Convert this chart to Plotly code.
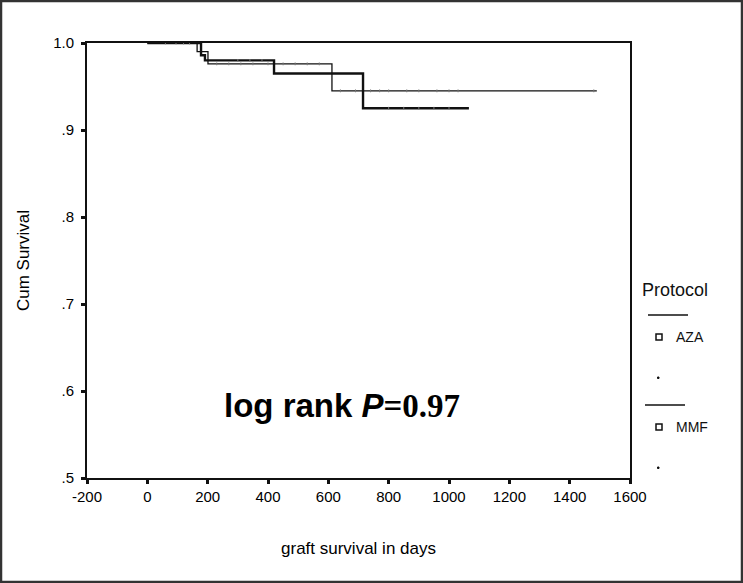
import plotly.graph_objects as go

# Kaplan-Meier step data
aza_days = [0, 178, 191, 420, 715, 1066]
aza_surv = [1.0, 0.986, 0.980, 0.965, 0.925, 0.925]
mmf_days = [0, 165, 201, 612, 1490]
mmf_surv = [1.0, 0.990, 0.976, 0.945, 0.945]

# censored observations (approximate)
aza_cens_days = [60, 95, 120, 140, 300, 340, 380, 800, 850, 900, 950, 1000]
aza_cens_surv = [1.0, 1.0, 1.0, 1.0, 0.980, 0.980, 0.980, 0.925, 0.925, 0.925, 0.925, 0.925]
mmf_cens_days = [230, 270, 310, 350, 400, 450, 490, 530, 570, 640, 690, 740, 770, 800, 860, 900, 960, 1000, 1030, 1480]
mmf_cens_surv = [0.976] * 9 + [0.945] * 11

x_ticks = [-200, 0, 200, 400, 600, 800, 1000, 1200, 1400, 1600]
y_ticks = [0.5, 0.6, 0.7, 0.8, 0.9, 1.0]
y_labels = [".5", ".6", ".7", ".8", ".9", "1.0"]

fig = go.Figure()
fig.add_trace(go.Scatter(x=mmf_days, y=mmf_surv, mode="lines", line_shape="hv",
                         line=dict(color="#111", width=1.3), name="MMF", showlegend=False))
fig.add_trace(go.Scatter(x=aza_days, y=aza_surv, mode="lines", line_shape="hv",
                         line=dict(color="#111", width=2.4), name="AZA", showlegend=False))
fig.add_trace(go.Scatter(x=mmf_cens_days, y=mmf_cens_surv, mode="markers",
                         marker=dict(symbol="line-ns", size=2, line=dict(color="#777", width=1)),
                         showlegend=False, hoverinfo="skip"))
fig.add_trace(go.Scatter(x=aza_cens_days, y=aza_cens_surv, mode="markers",
                         marker=dict(symbol="line-ns", size=2, line=dict(color="#777", width=1)),
                         showlegend=False, hoverinfo="skip"))

font = "Liberation Sans, Arial, sans-serif"
fig.update_layout(
    width=743, height=583,
    margin=dict(l=87, r=113, t=43, b=105, autoexpand=False),
    paper_bgcolor="white", plot_bgcolor="white",
    font=dict(family=font, color="#000", size=15),
    xaxis=dict(range=[-200, 1600], tickvals=x_ticks, ticktext=[str(v) for v in x_ticks],
               showgrid=False, zeroline=False, showline=True, linecolor="#111", linewidth=2,
               mirror=True, ticks="outside", ticklen=4, tickwidth=3, tickcolor="#111",
               automargin=False,
               title=dict(text="graft survival in days", font=dict(size=17), standoff=38),
               tickfont=dict(size=15, color="#000")),
    yaxis=dict(range=[0.5, 1.0], tickvals=y_ticks, ticktext=y_labels,
               showgrid=False, zeroline=False, showline=True, linecolor="#111", linewidth=2,
               mirror=True, ticks="outside", ticklen=4, tickwidth=3, tickcolor="#111",
               automargin=False, ticklabelstandoff=4,
               title=dict(text="Cum Survival", font=dict(size=17), standoff=19),
               tickfont=dict(size=15, color="#000")),
)

W, H = 543.0, 435.0
def px(x):
    return (x - 87) / W
def py(y):
    return (478 - y) / H

# log rank annotation
fig.add_annotation(
    xref="paper", yref="paper", x=px(342), y=py(405), showarrow=False,
    text="<b>log rank </b><b><i>P</i></b><span style='font-family:Liberation Serif, Times New Roman, serif'><b>=0.97</b></span>",
    font=dict(size=33, family=font, color="#000"), xanchor="center", yanchor="middle")

# Legend drawn manually
fig.add_annotation(xref="paper", yref="paper", x=px(640), y=py(290), text="Protocol",
                   showarrow=False, xanchor="left", yanchor="middle",
                   font=dict(size=18, family=font, color="#111"))
legend_items = ["AZA", "MMF"]
legend_y = [315, 405]
legend_x = [648, 645]
for name, ly, lx in zip(legend_items, legend_y, legend_x):
    fig.add_shape(type="line", xref="paper", yref="paper", x0=px(lx), x1=px(lx + 40),
                  y0=py(ly), y1=py(ly), line=dict(color="#111", width=1.5))
    fig.add_shape(type="rect", xref="paper", yref="paper", x0=px(656), x1=px(662),
                  y0=py(ly + 19), y1=py(ly + 25), line=dict(color="#111", width=1.5))
    fig.add_annotation(xref="paper", yref="paper", x=px(674), y=py(ly + 22), text=name,
                       showarrow=False, xanchor="left", yanchor="middle",
                       font=dict(size=14, family=font, color="#111"))
    fig.add_shape(type="rect", xref="paper", yref="paper", x0=px(657.5), x1=px(659),
                  y0=py(ly + 62), y1=py(ly + 63.5), line=dict(color="#111", width=1),
                  fillcolor="#111")

# Outer image border
fig.add_shape(type="rect", xref="paper", yref="paper", x0=px(1), x1=px(742), y0=py(1), y1=py(582),
              line=dict(color="#333", width=2.5), layer="below")

fig.write_html("out.html", config={"displayModeBar": False},
               post_script="document.body.style.margin='0';document.body.style.overflow='hidden';")
